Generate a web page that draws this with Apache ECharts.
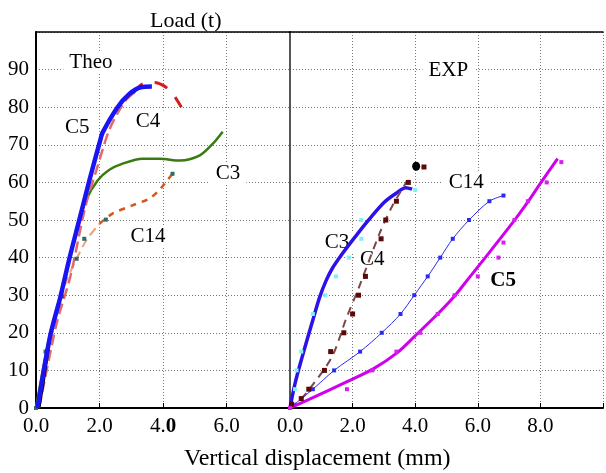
<!DOCTYPE html>
<html>
<head>
<meta charset="utf-8">
<script src="https://cdn.jsdelivr.net/npm/echarts@6/dist/echarts.min.js"></script>
<style>
  html, body { margin: 0; padding: 0; background: #fff; }
  #chart { width: 606px; height: 473px; }
</style>
</head>
<body>
<div id="chart"></div>
<script>
// Load–displacement curves: theoretical model (left panel) and test results (right panel)

// ---- Theoretical curves [displacement mm, load t] ----
const theoC5 = [[0.05, 0], [0.44, 18.9], [0.77, 29.6], [1.05, 39.7], [1.36, 49.9], [1.68, 60.5], [2.02, 71.1], [2.1, 73.3], [2.57, 80], [2.94, 83.5], [3.3, 85.3], [3.65, 85.5]];
const theoC4Lower = [[0.1, 0], [0.65, 22.5], [1.08, 34.9], [1.55, 53.4], [1.9, 63.2], [2.32, 74.2], [2.78, 81.3], [3.05, 83.6]];
const theoC4Upper = [[3.05, 83.6], [3.36, 86.2], [3.74, 86.6], [4.0, 85.8], [4.27, 84], [4.58, 80]];
const theoC3 = [[0, 0], [0.4, 18], [0.77, 30], [1.1, 41], [1.36, 49.5], [1.57, 55.2], [1.94, 60.5], [2.3, 63.3], [2.73, 65], [3.36, 66.3], [3.9, 66.3], [4.53, 65.8], [5.16, 67.2], [5.57, 70.3], [5.88, 73.5]];
const theoC14Lower = [[0, 0], [0.4, 16], [0.82, 29.7], [0.97, 34], [1.28, 39.7], [1.6, 44.8], [2.0, 49]];
const theoC14Upper = [[2.0, 49], [2.41, 51.7], [3.04, 53.9], [3.57, 55.7], [3.88, 57.9], [4.11, 60.3], [4.3, 62.3]];
const theoC14Points = [[0, 0], [0.3, 15], [0.82, 29.7], [1.28, 39.7], [1.52, 45], [2.2, 50.1], [4.3, 62.3]];
const theoBase = [[0.1, 0], [0.22, 6], [0.4, 16]];

// ---- Experimental curves [displacement mm, load t] ----
const expC3 = [[0, 0], [0.16, 6.5], [0.42, 14.5], [0.73, 23.4], [0.94, 29.3], [1.15, 33.8], [1.35, 37.1], [1.67, 41], [2.08, 45.5], [2.5, 49.9], [3.02, 54.8], [3.44, 57.4], [3.69, 58.6], [3.9, 58.2]];
const expC3Points = [[0, 0], [0.16, 5], [0.21, 10], [0.36, 15], [0.73, 25], [1.13, 30], [1.47, 35], [1.88, 40], [2.28, 45], [2.28, 50], [4.0, 58]];
const expC4 = [[0, 0], [0.36, 2.5], [0.6, 4.8], [1.34, 13.6], [1.8, 23.9], [2.19, 31.8], [2.86, 46.4], [3.28, 53.9], [3.75, 60.5]];
const expC4Points = [[0.05, 1], [0.36, 2.5], [0.6, 5], [1.1, 10], [1.3, 15], [1.72, 20], [2.0, 25], [2.19, 30], [2.41, 35], [2.91, 45], [3.06, 50], [3.4, 55], [3.78, 60], [4.28, 64.1]];
const expFailure = [[4.03, 64.3]];
const expC14 = [[0, 0], [0.73, 5], [1.41, 10], [2.24, 15], [2.93, 20], [3.53, 25], [3.97, 30], [4.4, 35], [4.8, 40], [5.2, 45], [5.72, 50], [6.37, 55], [6.82, 56.5]];
const expC5 = [[0, 0], [0.8, 3.0], [1.77, 6.8], [2.66, 10.4], [3.44, 14.8], [4.0, 19.2], [4.74, 25.2], [5.26, 29.8], [5.74, 34.8], [6.2, 39.6], [7.17, 49.9], [7.6, 54.8], [8.02, 60], [8.55, 66.3]];
const expC5Points = [[0, 0], [1.82, 5], [2.63, 10], [3.4, 15], [4.16, 20], [4.72, 25], [5.26, 30], [6.0, 35], [6.66, 40], [6.82, 44], [7.17, 50], [7.6, 55], [8.2, 60], [8.67, 65.4]];

// ---- Text annotations [x, y, text] ----
const theoLabels = [[1.73, 91.9, 'Theo'], [1.3, 74.6, 'C5'], [3.53, 76.3, 'C4'], [6.05, 62.4, 'C3'], [3.53, 45.7, 'C14']];
const expLabels = [[5.06, 89.7, 'EXP'], [5.63, 60, 'C14'], [1.5, 44, 'C3'], [2.63, 39.6, 'C4'], [6.81, 34, 'C5']];

// ---- Axis ticks ----
const yMax = 100, yStep = 10;
const theoXMax = 8, expXMax = 10, xStep = 2;

const SERIF = 'Liberation Serif, Times New Roman, serif';
const gridDots = { show: true, lineStyle: { color: '#777', type: [1, 2], width: 1 } };

function xTickLabel(maxVal, boldZero) {
  return function (v) {
    if (v >= maxVal) return '';
    if (boldZero && v === 4) return '4.{b|0}';
    return v.toFixed(1);
  };
}

function lineSeries(data, x, color, width, dash, extra) {
  return Object.assign({
    type: 'line', xAxisIndex: x, yAxisIndex: x, data: data,
    showSymbol: false, symbol: 'none', smooth: 0.3, z: 3,
    lineStyle: { color: color, width: width, type: dash || 'solid' },
    itemStyle: { color: color, opacity: 1 }
  }, extra || {});
}

function pointSeries(data, x, color, size, shape, z) {
  return {
    type: 'scatter', xAxisIndex: x, yAxisIndex: x, data: data,
    symbol: shape || 'rect', symbolSize: size, z: z || 4,
    itemStyle: { color: color, opacity: 1 }
  };
}

function labelSeries(list, x) {
  return {
    type: 'scatter', xAxisIndex: x, yAxisIndex: x, z: 2, silent: true,
    symbol: 'rect', symbolSize: 1, itemStyle: { color: 'rgba(0,0,0,0)', opacity: 1 },
    data: list.map(l => ({ value: [l[0], l[1]], name: l[2] })),
    label: {
      show: true, position: 'inside', formatter: '{b}',
      color: '#000', fontFamily: SERIF, fontSize: 21,
      backgroundColor: '#fff', padding: [0, 6]
    }
  };
}

const chart = echarts.init(document.getElementById('chart'), null, { renderer: 'canvas' });

const bottomAxisCommon = {
  type: 'value', position: 'bottom', interval: xStep, min: 0,
  axisLine: { show: true, onZero: false, lineStyle: { color: '#000', width: 2 } },
  axisTick: { show: true, inside: true, length: 5, lineStyle: { color: '#000', width: 1 } },
  splitLine: gridDots,
  axisLabel: {
    color: '#000', fontFamily: SERIF, fontSize: 21, margin: 8,
    rich: { b: { fontWeight: 'bold', fontFamily: SERIF, fontSize: 21, color: '#000' } }
  }
};
const topAxisCommon = {
  type: 'value', position: 'top', min: 0, interval: xStep,
  axisLine: { show: true, onZero: false, lineStyle: { color: '#000', width: 1.5 } },
  axisTick: { show: false }, axisLabel: { show: false }, splitLine: { show: false }
};

const expLabelSeries = labelSeries(expLabels, 1);
expLabelSeries.data[4].label = { fontWeight: 'bold' };

chart.setOption({
  animation: false,
  backgroundColor: '#fff',
  title: [
    { text: 'Load (t)', left: 145, top: 5, textStyle: { fontFamily: SERIF, fontSize: 22, fontWeight: 'normal', color: '#000' } },
    { text: 'Vertical displacement (mm)', left: 179, top: 442, textStyle: { fontFamily: SERIF, fontSize: 24, fontWeight: 'normal', color: '#000' } }
  ],
  grid: [
    { left: 36, top: 32, width: 254, height: 376 },
    { left: 290, top: 32, width: 320, height: 376 }
  ],
  xAxis: [
    Object.assign({}, bottomAxisCommon, { gridIndex: 0, max: theoXMax,
      axisLabel: Object.assign({}, bottomAxisCommon.axisLabel, { formatter: xTickLabel(theoXMax, true) }) }),
    Object.assign({}, bottomAxisCommon, { gridIndex: 1, max: expXMax,
      axisLabel: Object.assign({}, bottomAxisCommon.axisLabel, { formatter: xTickLabel(expXMax, false) }) }),
    Object.assign({}, topAxisCommon, { gridIndex: 0, max: theoXMax }),
    Object.assign({}, topAxisCommon, { gridIndex: 1, max: expXMax })
  ],
  yAxis: [
    {
      gridIndex: 0, type: 'value', min: 0, max: yMax, interval: yStep,
      axisLine: { show: true, onZero: false, lineStyle: { color: '#000', width: 2 } },
      axisTick: { show: false },
      splitLine: gridDots,
      axisLabel: { color: '#000', fontFamily: SERIF, fontSize: 21, margin: 7,
        formatter: v => (v >= yMax ? '' : String(v)) }
    },
    {
      gridIndex: 1, type: 'value', min: 0, max: yMax, interval: yStep,
      axisLine: { show: true, onZero: false, lineStyle: { color: '#555', width: 2 } },
      axisTick: { show: false },
      splitLine: gridDots,
      axisLabel: { show: false }
    }
  ],
  series: [
    labelSeries(theoLabels, 0),
    expLabelSeries,

    // Theoretical
    lineSeries(theoC14Lower, 0, '#e9a27e', 2, [9, 5]),
    lineSeries(theoC14Upper, 0, '#d4581c', 2.5, [6, 6]),
    pointSeries(theoC14Points, 0, '#2f6b68', 4),
    lineSeries(theoC3, 0, '#3b7a12', 2.5),
    lineSeries(theoC4Lower, 0, '#e06a6a', 2.5, [11, 5]),
    lineSeries(theoC4Upper, 0, '#d21f1f', 3, [14, 12]),
    lineSeries(theoBase, 0, '#000', 2.5, 'solid', { smooth: false }),
    lineSeries(theoC5, 0, '#1a14f5', 4.5, 'solid', { z: 5 }),

    // Experimental
    pointSeries(expC3Points, 1, '#80f0f0', 4),
    lineSeries(expC3, 1, '#2a12e8', 3.5),
    lineSeries(expC4, 1, '#7d4848', 2, [8, 6]),
    pointSeries(expC4Points, 1, '#5a0808', 5),
    pointSeries(expFailure, 1, '#000', [8, 9], 'circle'),
    lineSeries(expC14, 1, '#2b2bf0', 1, 'solid', { showSymbol: true, symbol: 'rect', symbolSize: 4 }),
    lineSeries(expC5, 1, '#d000ee', 3),
    pointSeries(expC5Points, 1, '#d81ef0', 4)
  ]
});
</script>
</body>
</html>
